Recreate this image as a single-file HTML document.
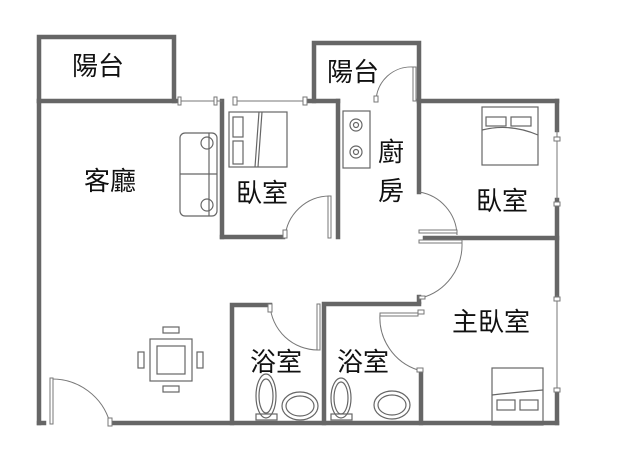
<!DOCTYPE html>
<html><head><meta charset="utf-8"><style>
html,body{margin:0;padding:0;background:#fff;width:638px;height:460px;overflow:hidden}
text{font-family:"Liberation Sans","Noto Sans CJK TC",sans-serif;font-size:26px;fill:#111}
</style></head><body>
<svg width="638" height="460" viewBox="0 0 638 460" xmlns="http://www.w3.org/2000/svg">
<g stroke="#666" stroke-width="4.5" fill="none" stroke-linecap="square">
<polyline points="39,101 39,37 174,37 174,101"/>
<polyline points="314,101 314,43 419,43 419,101"/>
<line x1="39" y1="101" x2="178" y2="101"/>
<line x1="39" y1="101" x2="39" y2="423"/>
<line x1="39" y1="423" x2="44" y2="423"/>
<line x1="110" y1="423" x2="557" y2="423"/>
<line x1="305" y1="101" x2="338" y2="101"/>
<line x1="419" y1="101" x2="557" y2="101"/>
<line x1="557" y1="101" x2="557" y2="130"/>
<line x1="557" y1="200" x2="557" y2="295"/>
<line x1="557" y1="390" x2="557" y2="423"/>
<line x1="222" y1="101" x2="222" y2="237"/>
<line x1="222" y1="237" x2="283" y2="237"/>
<line x1="338" y1="101" x2="338" y2="237"/>
<line x1="419" y1="101" x2="419" y2="192"/>
<line x1="425" y1="238" x2="557" y2="238"/>
<line x1="419" y1="297" x2="419" y2="302"/>
<polyline points="232,423 232,305 270,305"/>
<polyline points="324,423 324,304 419,304"/>
<line x1="421" y1="372" x2="421" y2="423"/>
</g>
<g stroke="#777" stroke-width="1" fill="#fff">
<line x1="178" y1="101" x2="222" y2="101"/>
<line x1="235" y1="101" x2="305" y2="101"/>
<rect x="178" y="97" width="3" height="8"/><rect x="214" y="97" width="3" height="8"/>
<rect x="233" y="97" width="4" height="8"/><rect x="303" y="97" width="4" height="8"/>
<line x1="557" y1="130" x2="557" y2="200"/><rect x="554" y="137" width="6" height="4"/><rect x="554" y="202" width="6" height="4"/>
<line x1="557" y1="295" x2="557" y2="390"/><rect x="554" y="297" width="6" height="4"/><rect x="554" y="388" width="6" height="4"/>
<path d="M51 379 A60 60 0 0 1 110 423" fill="none"/><rect x="50" y="378" width="3" height="46"/><rect x="108" y="418" width="4" height="8"/>
<path d="M285 238 A45 45 0 0 1 330 196" fill="none"/><rect x="328" y="196" width="3" height="42"/><rect x="283" y="230" width="4" height="8"/>
<path d="M376 101 A35 35 0 0 1 413 67" fill="none"/><rect x="413" y="67" width="3" height="34"/><rect x="374" y="96" width="4" height="6"/>
<path d="M419 192 A45 45 0 0 1 457 235" fill="none"/><rect x="419" y="230" width="38" height="3"/><rect x="419" y="240" width="43" height="3"/>
<path d="M462 243 A55 55 0 0 1 421 298" fill="none"/><rect x="419" y="296" width="6" height="3"/>
<path d="M270 305 A48 48 0 0 0 318 350" fill="none"/><rect x="268" y="304" width="4" height="8"/><rect x="317" y="304" width="3" height="46"/>
<path d="M380 314 A55 55 0 0 0 418 370" fill="none"/><rect x="380" y="313" width="38" height="3"/><rect x="417" y="368" width="6" height="4"/><rect x="418" y="310" width="6" height="4"/>
</g>
<g stroke="#666" stroke-width="1.2" fill="none">
<rect x="229" y="112" width="58" height="55"/><rect x="233" y="117" width="10" height="20"/><rect x="233" y="141" width="10" height="23"/><path d="M259 112 L255 167 M262 112 L258 167"/>
<rect x="180" y="133" width="37" height="83" rx="5"/><line x1="180" y1="174" x2="217" y2="174"/><line x1="209" y1="133" x2="209" y2="216"/><circle cx="207" cy="143" r="6"/><circle cx="207" cy="205" r="6"/>
<rect x="343" y="111" width="27" height="57"/><circle cx="356" cy="125" r="6"/><circle cx="356" cy="152" r="6"/><circle cx="356" cy="125" r="2.5"/><circle cx="356" cy="152" r="2.5"/>
<rect x="482" y="107" width="56" height="58"/><rect x="486" y="117" width="20" height="9"/><rect x="511" y="117" width="20" height="9"/><path d="M482 130 Q510 123 538 135"/>
<rect x="492" y="368" width="51" height="57"/><path d="M492 395 Q518 392 543 390"/><rect x="497" y="400" width="18" height="10"/><rect x="520" y="400" width="18" height="10"/>
<rect x="150" y="339" width="42" height="42"/><rect x="157" y="346" width="28" height="28"/>
<rect x="163" y="327" width="16" height="6"/><rect x="163" y="386" width="16" height="6"/><rect x="138" y="352" width="6" height="16"/><rect x="197" y="352" width="6" height="16"/>
<ellipse cx="266" cy="396" rx="10" ry="22"/><ellipse cx="266" cy="396" rx="7" ry="17"/><rect x="256" y="414" width="21" height="6"/>
<ellipse cx="300" cy="406" rx="18" ry="14"/><ellipse cx="300" cy="406" rx="14" ry="10"/>
<ellipse cx="341" cy="398" rx="10" ry="20"/><ellipse cx="341" cy="398" rx="7" ry="16"/><rect x="331" y="414" width="21" height="6"/>
<ellipse cx="392" cy="405" rx="18" ry="14"/><ellipse cx="392" cy="405" rx="14" ry="10"/>
</g>
<text x="72" y="75">陽台</text>
<text x="327" y="81">陽台</text>
<text x="84" y="190">客廳</text>
<text x="236" y="202">臥室</text>
<text x="378" y="161">廚</text>
<text x="378" y="200">房</text>
<text x="476" y="210">臥室</text>
<text x="452" y="331">主臥室</text>
<text x="250" y="371">浴室</text>
<text x="337" y="371">浴室</text>
</svg>
</body></html>
